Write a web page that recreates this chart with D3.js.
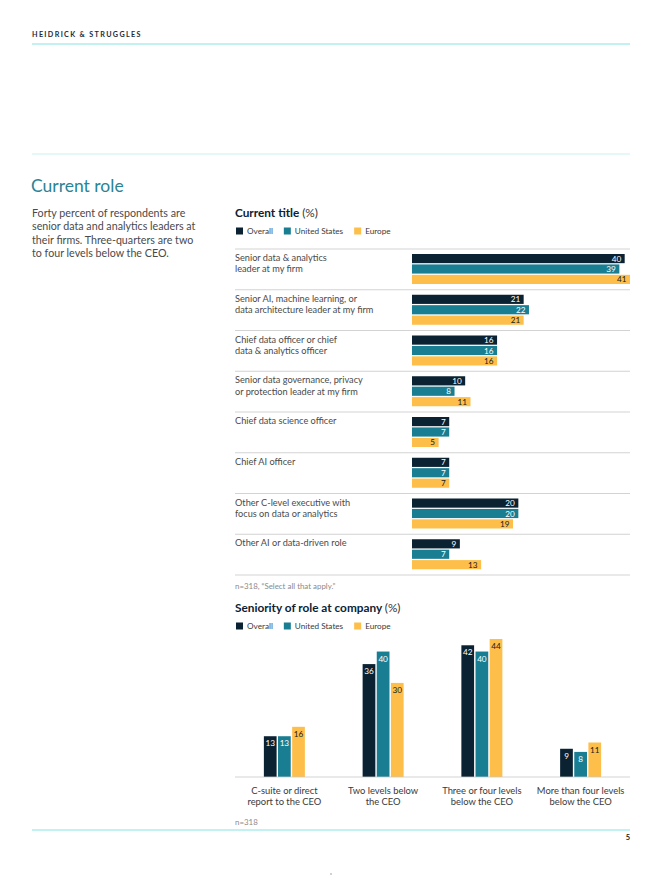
<!DOCTYPE html>
<html>
<head>
<meta charset="utf-8">
<script src="https://cdn.jsdelivr.net/npm/d3@7"></script>
<style>
  html, body { margin: 0; padding: 0; background: #fff; }
  svg { display: block; font-family: Lato, "Open Sans", sans-serif; }
</style>
</head>
<body>
<svg id="chart" width="662" height="880"></svg>
<script>
// ---------- data ----------
const seriesNames = ["Overall", "United States", "Europe"];
const seriesColors = ["#0b2233", "#1a7e93", "#fdbf4a"];
const seriesTextColors = ["#ffffff", "#ffffff", "#1a1a1a"];

const titleCategories = [
  "Senior data & analytics\nleader at my firm",
  "Senior AI, machine learning, or\ndata architecture leader at my firm",
  "Chief data officer or chief\ndata & analytics officer",
  "Senior data governance, privacy\nor protection leader at my firm",
  "Chief data science officer",
  "Chief AI officer",
  "Other C-level executive with\nfocus on data or analytics",
  "Other AI or data-driven role"
];
const titleOverall = [40, 21, 16, 10, 7, 7, 20, 9];
const titleUS      = [39, 22, 16, 8, 7, 7, 20, 7];
const titleEurope  = [41, 21, 16, 11, 5, 7, 19, 13];

const seniorityCategories = [
  "C-suite or direct\nreport to the CEO",
  "Two levels below\nthe CEO",
  "Three or four levels\nbelow the CEO",
  "More than four levels\nbelow the CEO"
];
const seniorityOverall = [13, 36, 42, 9];
const seniorityUS      = [13, 40, 40, 8];
const seniorityEurope  = [16, 30, 44, 11];

const introLines = [
  "Forty percent of respondents are",
  "senior data and analytics leaders at",
  "their firms. Three-quarters are two",
  "to four levels below the CEO."
];

// ---------- page ----------
const svg = d3.select("#chart");
const cyan = "#86e3e3";
const bodyGray = "#4a4a4a";

svg.append("text").attr("x", 32).attr("y", 36.5)
  .attr("font-size", 7.2).attr("font-weight", 700).attr("letter-spacing", 1.35)
  .attr("fill", "#1c2b38").text("HEIDRICK & STRUGGLES");
svg.append("line").attr("x1", 32).attr("x2", 630).attr("y1", 44).attr("y2", 44)
  .attr("stroke", cyan).attr("stroke-width", 1);
svg.append("line").attr("x1", 32).attr("x2", 630).attr("y1", 154).attr("y2", 154)
  .attr("stroke", "#c9f1f1").attr("stroke-width", 1);

svg.append("text").attr("x", 31).attr("y", 192)
  .attr("font-size", 17.5).attr("fill", "#2a8495").text("Current role");

svg.append("g").selectAll("text").data(introLines).join("text")
  .attr("x", 32).attr("y", (d, i) => 217 + i * 13.3)
  .attr("font-size", 10.7).attr("fill", bodyGray).text(d => d);

function legend(y) {
  const g = svg.append("g");
  let x = 236;
  seriesNames.forEach((name, i) => {
    g.append("rect").attr("x", x).attr("y", y - 3.5).attr("width", 7).attr("height", 7)
      .attr("fill", seriesColors[i]);
    const t = g.append("text").attr("x", x + 11).attr("y", y + 2.8)
      .attr("font-size", 8.2).attr("fill", "#3a3a3a").text(name);
    x = x + 11 + t.node().getComputedTextLength() + 11;
  });
}

function chartTitle(y, main) {
  const t = svg.append("text").attr("x", 235).attr("y", y).attr("fill", "#0b2233");
  t.append("tspan").attr("font-size", 11.8).attr("font-weight", 700).text(main + " ");
  t.append("tspan").attr("font-size", 11.8).attr("fill", "#333").text("(%)");
}

// ---------- chart 1: Current title (horizontal grouped bars) ----------
chartTitle(217, "Current title");
legend(231);

const titleRows = titleCategories.map((c, i) => ({
  cat: c, vals: [titleOverall[i], titleUS[i], titleEurope[i]]
}));

const yGroup = d3.scaleBand().domain(titleCategories).range([249, 575]).paddingInner(0).paddingOuter(0);
const ySub = d3.scaleBand().domain(seriesNames).range([5, 35]).paddingInner(0.12);
const xBar = d3.scaleLinear().domain([0, 41]).range([412, 630]);

const sepYs = titleCategories.map(c => yGroup(c)).concat([575]);
svg.append("g").selectAll("line").data(sepYs).join("line")
  .attr("x1", 235).attr("x2", 630).attr("y1", d => d).attr("y2", d => d)
  .attr("stroke", "#c8c8c8").attr("stroke-width", 0.8);

const rowG = svg.append("g").selectAll("g").data(titleRows).join("g")
  .attr("transform", d => `translate(0,${yGroup(d.cat)})`);

rowG.each(function(d) {
  const g = d3.select(this);
  d.cat.split("\n").forEach((line, li) => {
    g.append("text").attr("x", 235).attr("y", 12 + li * 11.3)
      .attr("font-size", 9.2).attr("fill", bodyGray).text(line);
  });
  d.vals.forEach((v, si) => {
    const s = seriesNames[si];
    g.append("rect").attr("x", xBar(0)).attr("y", ySub(s))
      .attr("width", xBar(v) - xBar(0)).attr("height", ySub.bandwidth())
      .attr("fill", seriesColors[si]);
    g.append("text").attr("x", xBar(v) - 3.5).attr("y", ySub(s) + ySub.bandwidth() / 2 + 3)
      .attr("text-anchor", "end").attr("font-size", 8.2).attr("fill", seriesTextColors[si])
      .text(v);
  });
});

svg.append("text").attr("x", 235).attr("y", 589)
  .attr("font-size", 7.9).attr("fill", "#8a8a8a").text("n=318, \u201CSelect all that apply.\u201D");

// ---------- chart 2: Seniority (vertical grouped bars) ----------
chartTitle(612, "Seniority of role at company");
legend(626);

const senRows = seniorityCategories.map((c, i) => ({
  cat: c, vals: [seniorityOverall[i], seniorityUS[i], seniorityEurope[i]]
}));

const xGroup = d3.scaleBand().domain(seniorityCategories).range([235, 630]);
const xSub = d3.scaleBand().domain(seriesNames).range([-20.5, 20.5]).paddingInner(0.1);
const yBar = d3.scaleLinear().domain([0, 44]).range([777, 639]);

const colG = svg.append("g").selectAll("g").data(senRows).join("g")
  .attr("transform", d => `translate(${xGroup(d.cat) + xGroup.bandwidth() / 2},0)`);

colG.each(function(d) {
  const g = d3.select(this);
  d.vals.forEach((v, si) => {
    const s = seriesNames[si];
    g.append("rect").attr("x", xSub(s)).attr("y", yBar(v))
      .attr("width", xSub.bandwidth()).attr("height", yBar(0) - yBar(v))
      .attr("fill", seriesColors[si]);
    g.append("text").attr("x", xSub(s) + xSub.bandwidth() / 2).attr("y", yBar(v) + 10)
      .attr("text-anchor", "middle").attr("font-size", 8.2).attr("fill", seriesTextColors[si])
      .text(v);
  });
  d.cat.split("\n").forEach((line, li) => {
    g.append("text").attr("x", 0).attr("y", 793.5 + li * 11)
      .attr("text-anchor", "middle").attr("font-size", 9.4).attr("fill", "#3a3a3a").text(line);
  });
});

svg.append("line").attr("x1", 235).attr("x2", 630).attr("y1", yBar(0)).attr("y2", yBar(0))
  .attr("stroke", "#c8c8c8").attr("stroke-width", 0.8);

svg.append("text").attr("x", 235).attr("y", 825)
  .attr("font-size", 7.9).attr("fill", "#8a8a8a").text("n=318");

svg.append("line").attr("x1", 32).attr("x2", 630).attr("y1", 830).attr("y2", 830)
  .attr("stroke", cyan).attr("stroke-width", 1);
svg.append("text").attr("x", 630).attr("y", 840).attr("text-anchor", "end")
  .attr("font-size", 7.5).attr("font-weight", 700).attr("fill", "#222").text("5");
svg.append("circle").attr("cx", 331).attr("cy", 874).attr("r", 0.9).attr("fill", "#bbb");
</script>
</body>
</html>
